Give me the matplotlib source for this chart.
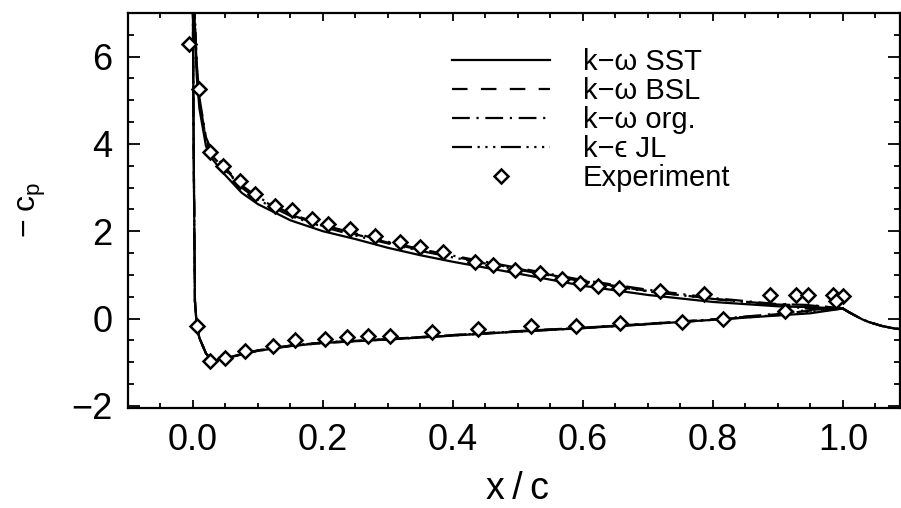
import matplotlib
matplotlib.use("Agg")
import matplotlib.pyplot as plt
from matplotlib.ticker import MultipleLocator

plt.rcParams['font.family'] = ['Liberation Sans', 'DejaVu Sans']
plt.rcParams['mathtext.fontset'] = 'custom'
plt.rcParams['mathtext.rm'] = 'Liberation Sans'
plt.rcParams['mathtext.it'] = 'Liberation Sans'

# chordwise stations (upper surface, lower surface, wake)
x_upper = [-0.001, 0.001, 0.003, 0.006, 0.01, 0.02, 0.03, 0.05, 0.075, 0.1, 0.15, 0.2,
           0.25, 0.3, 0.35, 0.4, 0.5, 0.6, 0.7, 0.8, 0.9, 0.95, 1.0]
x_lower = [-0.001, 0.001, 0.003, 0.006, 0.01, 0.02, 0.03, 0.05, 0.075, 0.1, 0.15, 0.2,
           0.3, 0.4, 0.5, 0.6, 0.7, 0.8, 0.9, 0.95, 1.0]
x_wake = [1.0, 1.01, 1.02, 1.03, 1.04, 1.06, 1.08, 1.1]

# -cp, k-omega SST
sst_upper = [9.5, 8.0, 6.6, 5.5, 4.8, 3.95, 3.65, 3.28, 2.88, 2.62, 2.25, 2.0,
             1.82, 1.62, 1.45, 1.3, 1.03, 0.75, 0.54, 0.38, 0.28, 0.26, 0.23]
sst_lower = [9.5, 4.0, 0.4, -0.2, -0.45, -0.8, -0.98, -0.92, -0.82, -0.74, -0.63, -0.56,
             -0.48, -0.39, -0.3, -0.22, -0.13, -0.03, 0.07, 0.12, 0.23]
# k-omega BSL
bsl_upper = [9.5, 8.2, 6.8, 5.7, 5.0, 4.1, 3.75, 3.42, 3.02, 2.75, 2.38, 2.12,
             1.93, 1.74, 1.57, 1.42, 1.14, 0.86, 0.63, 0.45, 0.32, 0.3, 0.23]
bsl_lower = [9.5, 4.0, 0.4, -0.2, -0.45, -0.8, -0.98, -0.91, -0.81, -0.73, -0.62, -0.55,
             -0.47, -0.38, -0.29, -0.21, -0.12, -0.02, 0.1, 0.18, 0.23]
# k-omega original
org_upper = [9.5, 8.3, 6.9, 5.8, 5.05, 4.15, 3.8, 3.45, 3.05, 2.78, 2.4, 2.14,
             1.95, 1.76, 1.59, 1.44, 1.16, 0.88, 0.66, 0.47, 0.33, 0.31, 0.23]
org_lower = [9.5, 4.0, 0.4, -0.2, -0.45, -0.8, -0.98, -0.91, -0.81, -0.73, -0.62, -0.55,
             -0.47, -0.38, -0.29, -0.21, -0.12, -0.02, 0.11, 0.2, 0.23]
# k-epsilon JL
jl_upper = [9.5, 8.1, 6.75, 5.65, 4.95, 4.08, 3.72, 3.4, 3.0, 2.72, 2.35, 2.1,
            1.9, 1.72, 1.55, 1.4, 1.12, 0.85, 0.62, 0.45, 0.3, 0.22, 0.23]
jl_lower = [9.5, 4.0, 0.4, -0.2, -0.45, -0.8, -0.98, -0.92, -0.82, -0.74, -0.63, -0.56,
            -0.48, -0.39, -0.3, -0.22, -0.13, -0.03, 0.08, 0.15, 0.23]
wake = [0.23, 0.14, 0.06, -0.02, -0.08, -0.17, -0.23, -0.26]

# experiment
exp_x_upper = [-0.006, 0.009, 0.026, 0.046, 0.072, 0.095, 0.126, 0.152, 0.183, 0.208,
               0.242, 0.28, 0.318, 0.349, 0.385, 0.434, 0.462, 0.495, 0.534, 0.568,
               0.595, 0.623, 0.655, 0.718, 0.787, 0.888, 0.928, 0.947, 0.985, 1.0, 0.99]
exp_y_upper = [6.28, 5.25, 3.81, 3.49, 3.15, 2.85, 2.58, 2.49, 2.28, 2.17,
               2.05, 1.9, 1.76, 1.64, 1.53, 1.30, 1.23, 1.12, 1.05, 0.91,
               0.82, 0.75, 0.71, 0.64, 0.57, 0.55, 0.55, 0.55, 0.55, 0.52, 0.41]
exp_x_lower = [0.006, 0.026, 0.049, 0.08, 0.123, 0.157, 0.203, 0.237, 0.269, 0.303,
               0.368, 0.438, 0.52, 0.589, 0.657, 0.752, 0.815, 0.911]
exp_y_lower = [-0.18, -0.98, -0.91, -0.75, -0.62, -0.5, -0.46, -0.43, -0.39, -0.39,
               -0.31, -0.25, -0.18, -0.18, -0.11, -0.07, 0.0, 0.18]

models = [
    ("k\u2212\u03c9 SST", sst_upper, sst_lower, '-'),
    ("k\u2212\u03c9 BSL", bsl_upper, bsl_lower, (0, (7, 6))),
    ("k\u2212\u03c9 org.", org_upper, org_lower, (0, (8, 3, 1, 3))),
    ("k\u2212\u03f5 JL", jl_upper, jl_lower, (0, (9, 2.5, 1, 2.5, 1, 2.5, 1, 2.5))),
]

fig = plt.figure(figsize=(9.01, 5.08), dpi=100)
ax = fig.add_axes([128 / 901, 100 / 508, 772 / 901, 395 / 508])

for label, yu, yl, ls in models:
    ax.plot(x_upper, yu, color='black', lw=1.6, ls=ls, label=label)
    ax.plot(x_lower, yl, color='black', lw=1.6, ls=ls)
    ax.plot(x_wake, wake, color='black', lw=1.6, ls=ls)

ax.plot(exp_x_upper, exp_y_upper, 'D', ms=6.8, mfc='white', mec='black', mew=1.8,
        label='Experiment')
ax.plot(exp_x_lower, exp_y_lower, 'D', ms=6.8, mfc='white', mec='black', mew=1.8)

ax.set_xlim(-0.1, 1.088)
ax.set_ylim(-2.05, 7.0)
ax.xaxis.set_minor_locator(MultipleLocator(0.05))
ax.yaxis.set_major_locator(MultipleLocator(2))
ax.yaxis.set_minor_locator(MultipleLocator(0.5))
ax.set_xticks([0.0, 0.2, 0.4, 0.6, 0.8, 1.0])
ax.set_xticklabels(['0.0', '0.2', '0.4', '0.6', '0.8', '1.0'])
ax.tick_params(which='both', direction='in', top=True, right=True, width=1.3,
               labelsize=26, colors='black')
ax.tick_params(axis='y', which='major', length=8.5, pad=11)
ax.tick_params(axis='y', which='minor', length=4.3)
ax.tick_params(axis='x', which='major', length=6, pad=11)
ax.tick_params(axis='x', which='minor', length=3.3)
for s in ax.spines.values():
    s.set_linewidth(1.6)

ax.set_xlabel('x\u2009/\u2009c', fontsize=27)
ax.xaxis.label.set_verticalalignment('baseline')
ax.xaxis.set_label_coords(0.504, -0.2304)
ax.set_ylabel(r'$-\;c_p$', fontsize=23)
ax.yaxis.set_label_coords(-0.104, 0.5)

ax.legend(loc='upper left', bbox_to_anchor=(0.4197, 0.912), frameon=False,
          fontsize=21, handlelength=3.35, handletextpad=1.13, labelspacing=0.04,
          borderaxespad=0, borderpad=0)

fig.savefig('out.png', dpi=100)
